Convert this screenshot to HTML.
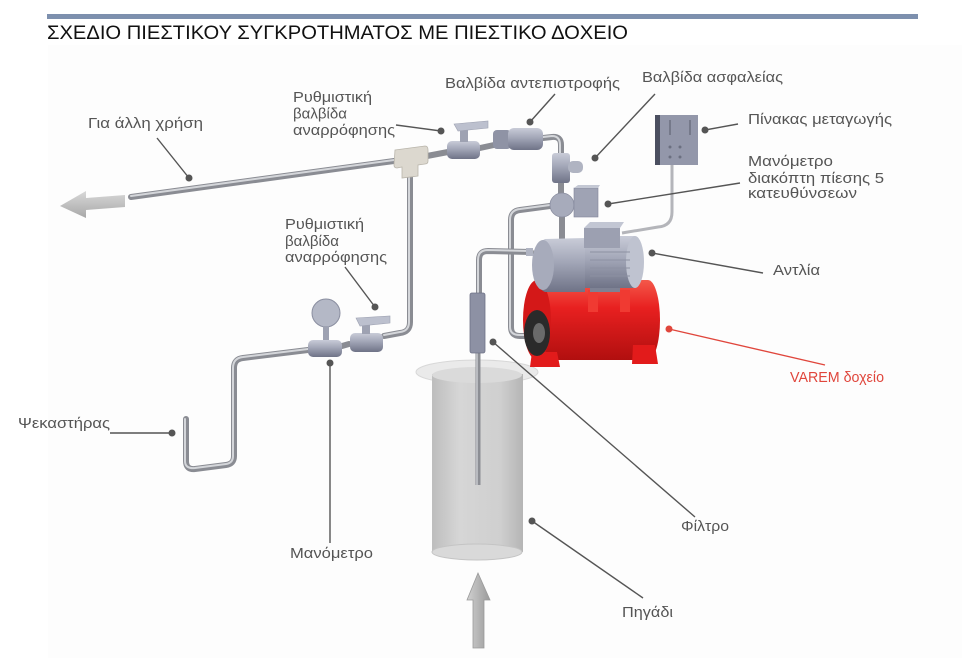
<!DOCTYPE html>
<html><head><meta charset="utf-8">
<style>
html,body{margin:0;padding:0;background:#fff;}
svg{display:block}
text{font-family:"Liberation Sans","DejaVu Sans",sans-serif;}
.lb{font-size:15px;fill:#555;}
.ld{stroke:#555;stroke-width:1.4;fill:none}
.dot{fill:#555}
.po{fill:none;stroke:#8a8c93;stroke-width:6;stroke-linecap:round;stroke-linejoin:round}
.pi{fill:none;stroke:#d4d6da;stroke-width:2;stroke-linecap:round;stroke-linejoin:round}
</style></head><body>
<svg width="962" height="658" viewBox="0 0 962 658" xmlns="http://www.w3.org/2000/svg">
<defs>
<linearGradient id="gp" x1="0" y1="0" x2="0" y2="1">
<stop offset="0" stop-color="#c9ccd8"/><stop offset="0.45" stop-color="#a2a6b7"/><stop offset="1" stop-color="#6f7387"/>
</linearGradient>
<linearGradient id="gr" x1="0" y1="0" x2="0" y2="1">
<stop offset="0" stop-color="#f4584a"/><stop offset="0.35" stop-color="#e82020"/><stop offset="1" stop-color="#b10f0f"/>
</linearGradient>
<linearGradient id="gw" x1="0" y1="0" x2="1" y2="0">
<stop offset="0" stop-color="#bdbdbd"/><stop offset="0.3" stop-color="#d6d6d6"/><stop offset="0.75" stop-color="#cfcfcf"/><stop offset="1" stop-color="#b5b5b5"/>
</linearGradient>
<linearGradient id="ga" x1="0" y1="0" x2="0" y2="1">
<stop offset="0" stop-color="#d8d8d8"/><stop offset="1" stop-color="#a8a8a8"/>
</linearGradient>
<linearGradient id="gu" x1="0" y1="0" x2="1" y2="0">
<stop offset="0" stop-color="#d0d0d0"/><stop offset="1" stop-color="#9a9a9a"/>
</linearGradient>
</defs>

<rect x="48" y="45" width="914" height="613" fill="#fdfdfd"/>
<!-- header -->
<rect x="47" y="14" width="871" height="5" fill="#7d90ae"/>
<text x="47" y="39" font-size="19" fill="#111" textLength="581" lengthAdjust="spacingAndGlyphs">ΣΧΕΔΙΟ ΠΙΕΣΤΙΚΟΥ ΣΥΓΚΡΟΤΗΜΑΤΟΣ ΜΕ ΠΙΕΣΤΙΚΟ ΔΟΧΕΙΟ</text>

<!-- well -->
<ellipse cx="477" cy="372" rx="61" ry="12" fill="#e8e8e8" stroke="#d4d4d4" opacity="0.9"/>
<rect x="432" y="374" width="91" height="178" fill="url(#gw)"/>
<ellipse cx="477" cy="375" rx="45" ry="8" fill="#dadada"/>
<ellipse cx="477" cy="552" rx="45" ry="8" fill="#d9d9d9" stroke="#c4c4c4"/>

<!-- up arrow -->
<polygon points="478,573 490,600 484,600 484,648 473,648 473,600 467,600" fill="url(#gu)" stroke="#9a9a9a" stroke-width="0.8"/>
<!-- left arrow -->
<polygon points="60,206 86,191 86,198 125,195 125,207 86,210 86,218" fill="url(#ga)"/>

<!-- pipes -->
<g>
<path class="po" d="M131 197 L394 161"/>
<path class="pi" d="M131 196 L394 160"/>
<path class="po" d="M427 156 L448 152 M480 148 L494 145"/>
<path class="po" d="M543 138 L552 137 Q561 136 561 145 L561 155"/>
<path class="pi" d="M543 137 L552 136 Q560 136 560 145 L560 155"/>
<path class="po" d="M410 176 L410 322 Q410 332 400 333 L384 336"/>
<path class="pi" d="M409 176 L409 322 Q409 331 400 332 L384 335"/>
<path class="po" d="M349 344 L342 346"/>
<path class="po" d="M308 350 L243 358 Q234 359 234 368 L234 456 Q234 464 226 465 L195 469 Q186 470 186 461 L186 419"/>
<path class="pi" d="M308 349 L243 357 Q233 358 233 368 L233 456 Q233 463 226 464 L195 468 Q185 469 185 461 L185 419"/>
<path class="po" d="M561 183 L561 195 M562 217 L562 240"/>
<path class="po" d="M550 206 L520 210 Q511 211 511 220 L511 327 Q511 336 520 336 L527 336"/>
<path class="pi" d="M550 205 L520 209 Q510 210 510 220 L510 327 Q510 335 520 335 L527 335"/>
<path class="po" d="M531 252 L488 251 Q479 251 479 260 L479 293"/>
<path class="pi" d="M531 251 L488 250 Q478 250 478 260 L478 293"/>
<path d="M478 353 L478 485" stroke="#8c8e94" stroke-width="5" fill="none"/>
<path d="M477 353 L477 485" stroke="#c8cacf" stroke-width="1.5" fill="none"/>
<path d="M672 165 L672 212 Q672 226 658 227 L622 233" stroke="#b4b5ba" stroke-width="3" fill="none"/>
</g>

<!-- tee -->
<path d="M395 150 L425 146 Q428 146 428 150 L428 161 Q428 164 425 164 L418 165 L418 176 L402 178 L402 167 L397 168 Q394 168 394 165 Z" fill="#dcd8cf" stroke="#b9b5ab" stroke-width="0.8"/>

<!-- filter -->
<rect x="470" y="293" width="15" height="60" rx="2" fill="#8d91a4" stroke="#6e7286" stroke-width="0.8"/>

<!-- top ball valve -->
<rect x="447" y="141" width="33" height="18" rx="5" fill="url(#gp)"/>
<rect x="460" y="130" width="8" height="12" fill="#9ea2b2"/>
<polygon points="454,124 488,121 488,128 458,131" fill="#bcc0ce" stroke="#9ea2b2" stroke-width="0.6"/>

<!-- check valve -->
<rect x="493" y="130" width="18" height="19" rx="4" fill="#8f93a5"/>
<rect x="508" y="128" width="35" height="22" rx="6" fill="url(#gp)"/>

<!-- safety valve -->
<rect x="552" y="153" width="18" height="30" rx="3" fill="url(#gp)"/>
<rect x="568" y="161" width="15" height="12" rx="5" fill="#b0b4c2"/>

<!-- cross + pressure switch -->
<circle cx="562" cy="205" r="12" fill="#a7abbb" stroke="#8a8ea0" stroke-width="0.8"/>
<rect x="574" y="188" width="24" height="29" fill="#9fa3b4" stroke="#80849a" stroke-width="0.6"/>
<polygon points="574,188 578,185 600,185 598,188" fill="#c4c8d4"/>

<!-- panel -->
<rect x="655" y="115" width="43" height="50" fill="#9397aa"/>
<rect x="655" y="115" width="5" height="50" fill="#4b4f60"/>
<line x1="670" y1="120" x2="670" y2="135" stroke="#6b6f80" stroke-width="1.5"/>
<line x1="690" y1="120" x2="690" y2="135" stroke="#6b6f80" stroke-width="1.5"/>
<circle cx="670" cy="147" r="1.5" fill="#6b6f80"/><circle cx="680" cy="147" r="1.5" fill="#6b6f80"/>
<circle cx="670" cy="157" r="1.5" fill="#6b6f80"/><circle cx="680" cy="157" r="1.5" fill="#6b6f80"/>

<!-- tank -->
<rect x="537" y="280" width="111" height="80" fill="url(#gr)"/>
<ellipse cx="648" cy="320" rx="12" ry="40" fill="url(#gr)"/>
<ellipse cx="537" cy="320" rx="14" ry="40" fill="#d41818"/>
<rect x="588" y="290" width="10" height="22" fill="#f03a32"/>
<rect x="620" y="290" width="10" height="22" fill="#f03a32"/>
<polygon points="532,352 557,352 560,367 530,367" fill="#e21b1b"/>
<polygon points="633,345 655,345 658,364 632,364" fill="#e21b1b"/>
<ellipse cx="537" cy="333" rx="13" ry="23" fill="#2a2a2a"/>
<ellipse cx="539" cy="333" rx="6" ry="10" fill="#6a6a6a"/>

<!-- pump -->
<rect x="590" y="278" width="30" height="14" fill="#7e8294"/>
<path d="M545 239 L585 238 L585 292 L545 292 A14 27 0 0 1 545 239 Z" fill="url(#gp)"/>
<ellipse cx="543" cy="265" rx="11" ry="25" fill="#a7abbb"/>
<rect x="585" y="236" width="50" height="52" fill="url(#gp)"/>
<ellipse cx="635" cy="262" rx="9" ry="26" fill="#bfc3d0"/>
<g stroke="#8d91a2" stroke-width="1"><line x1="590" y1="252" x2="630" y2="252"/><line x1="590" y1="260" x2="630" y2="260"/><line x1="590" y1="268" x2="630" y2="268"/><line x1="590" y1="276" x2="630" y2="276"/></g>
<rect x="584" y="228" width="36" height="20" fill="#9ca0b1"/>
<polygon points="584,228 590,222 624,222 620,228" fill="#c2c6d3"/>
<rect x="526" y="248" width="7" height="8" fill="#b0b4c2"/>

<!-- lower gauge + valve -->
<circle cx="326" cy="313" r="14" fill="#b4b8c6" stroke="#8a8ea0" stroke-width="1"/>
<rect x="323" y="326" width="6" height="15" fill="#9ea2b2"/>
<rect x="308" y="340" width="34" height="17" rx="5" fill="url(#gp)"/>
<rect x="350" y="333" width="33" height="19" rx="5" fill="url(#gp)"/>
<rect x="362" y="322" width="8" height="12" fill="#9ea2b2"/>
<polygon points="356,318 390,316 390,323 360,326" fill="#bcc0ce" stroke="#9ea2b2" stroke-width="0.6"/>

<!-- leaders -->
<path class="ld" d="M157 138 L189 178"/><circle class="dot" cx="189" cy="178" r="3.5"/>
<path class="ld" d="M396 125 L441 131"/><circle class="dot" cx="441" cy="131" r="3.5"/>
<path class="ld" d="M555 94 L530 122"/><circle class="dot" cx="530" cy="122" r="3.5"/>
<path class="ld" d="M655 94 L595 158"/><circle class="dot" cx="595" cy="158" r="3.5"/>
<path class="ld" d="M738 124 L705 130"/><circle class="dot" cx="705" cy="130" r="3.5"/>
<path class="ld" d="M740 183 L608 204"/><circle class="dot" cx="608" cy="204" r="3.5"/>
<path class="ld" d="M763 273 L652 253"/><circle class="dot" cx="652" cy="253" r="3.5"/>
<path d="M825 365 L669 329" stroke="#e0463c" stroke-width="1.4" fill="none"/><circle cx="669" cy="329" r="3.5" fill="#e0463c"/>
<path class="ld" d="M345 267 L375 307"/><circle class="dot" cx="375" cy="307" r="3.5"/>
<path class="ld" d="M330 363 L330 543"/><circle class="dot" cx="330" cy="363" r="3.5"/>
<path class="ld" d="M110 433 L172 433"/><circle class="dot" cx="172" cy="433" r="3.5"/>
<path class="ld" d="M493 342 L695 517"/><circle class="dot" cx="493" cy="342" r="3.5"/>
<path class="ld" d="M532 521 L643 598"/><circle class="dot" cx="532" cy="521" r="3.5"/>

<!-- labels -->
<text class="lb" x="88" y="128" textLength="115" lengthAdjust="spacingAndGlyphs">Για άλλη χρήση</text>
<text class="lb" x="293" y="102" textLength="79" lengthAdjust="spacingAndGlyphs">Ρυθμιστική</text>
<text class="lb" x="293" y="118.5" textLength="54" lengthAdjust="spacingAndGlyphs">βαλβίδα</text>
<text class="lb" x="293" y="135" textLength="102" lengthAdjust="spacingAndGlyphs">αναρρόφησης</text>
<text class="lb" x="445" y="88" textLength="175" lengthAdjust="spacingAndGlyphs">Βαλβίδα αντεπιστροφής</text>
<text class="lb" x="642" y="82" textLength="141" lengthAdjust="spacingAndGlyphs">Βαλβίδα ασφαλείας</text>
<text class="lb" x="748" y="124" textLength="144" lengthAdjust="spacingAndGlyphs">Πίνακας μεταγωγής</text>
<text class="lb" x="748" y="166" textLength="85" lengthAdjust="spacingAndGlyphs">Μανόμετρο</text>
<text class="lb" x="748" y="183" textLength="136" lengthAdjust="spacingAndGlyphs">διακόπτη πίεσης 5</text>
<text class="lb" x="748" y="198" textLength="109" lengthAdjust="spacingAndGlyphs">κατευθύνσεων</text>
<text class="lb" x="773" y="275" textLength="47" lengthAdjust="spacingAndGlyphs">Αντλία</text>
<text x="790" y="382" font-size="15" fill="#e0463c" textLength="94" lengthAdjust="spacingAndGlyphs">VAREM δοχείο</text>
<text class="lb" x="285" y="229" textLength="79" lengthAdjust="spacingAndGlyphs">Ρυθμιστική</text>
<text class="lb" x="285" y="246" textLength="54" lengthAdjust="spacingAndGlyphs">βαλβίδα</text>
<text class="lb" x="285" y="262" textLength="102" lengthAdjust="spacingAndGlyphs">αναρρόφησης</text>
<text class="lb" x="18" y="428" textLength="92" lengthAdjust="spacingAndGlyphs">Ψεκαστήρας</text>
<text class="lb" x="290" y="558" textLength="83" lengthAdjust="spacingAndGlyphs">Μανόμετρο</text>
<text class="lb" x="681" y="531" textLength="48" lengthAdjust="spacingAndGlyphs">Φίλτρο</text>
<text class="lb" x="622" y="617" textLength="51" lengthAdjust="spacingAndGlyphs">Πηγάδι</text>
</svg>
</body></html>
